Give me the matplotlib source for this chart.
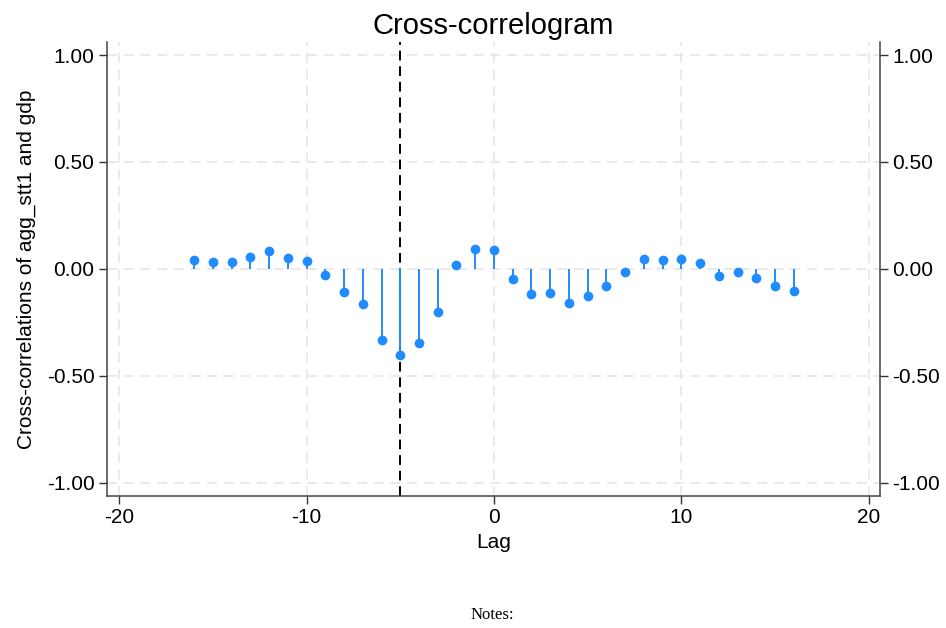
import numpy as np
import matplotlib
matplotlib.use("Agg")
from matplotlib import pyplot as plt

# cross-correlations, lags -16..16
lags = list(range(-16, 17))
xcorr = [0.039, 0.031, 0.030, 0.056, 0.083, 0.051, 0.037, -0.028,
         -0.109, -0.166, -0.333, -0.403, -0.348, -0.203, 0.020, 0.094,
         0.088,
         -0.049, -0.117, -0.111, -0.158, -0.128, -0.080, -0.013,
         0.044, 0.039, 0.045, 0.028, -0.034, -0.016, -0.045, -0.080, -0.105]
xticks = [-20, -10, 0, 10, 20]
yticks = [-1.0, -0.5, 0.0, 0.5, 1.0]
ytick_labels = ["-1.00", "-0.50", "0.00", "0.50", "1.00"]
marked_lag = -5

plt.rcParams['font.family'] = ['Liberation Sans', 'DejaVu Sans']
plt.rcParams['axes.unicode_minus'] = False
blue = '#1f8cff'

fig = plt.figure(figsize=(9.46, 6.28), dpi=100)
ax = fig.add_axes([0.1131, 0.2102, 0.8171, 0.7229])

# gridlines
for yv in yticks:
    ax.axhline(yv, color='#e6e6e6', lw=1.2, ls=(0, (6, 4)), zorder=0)
for xv in xticks:
    ax.axvline(xv, color='#e6e6e6', lw=1.2, ls=(0, (6, 4)), zorder=0)

ax.axvline(marked_lag, color='black', lw=1.4, ls=(0, (5, 3)), zorder=1)
ax.vlines(lags, 0, xcorr, color=blue, lw=1.4, zorder=2)
ax.plot(lags, xcorr, 'o', color=blue, ms=6, zorder=3)

ax.set_xlim(-20.65, 20.6)
ax.set_ylim(-1.063, 1.061)
ax.set_xticks(xticks)
ax.set_yticks(yticks)
ax.set_yticklabels(ytick_labels)
ax.tick_params(axis='both', labelsize=15, direction='out', length=6,
               width=1, color='#333333', pad=3)
ax.tick_params(axis='y', right=True, labelright=True)

for side in ['left', 'right', 'bottom']:
    ax.spines[side].set_color('#444444')
    ax.spines[side].set_linewidth(1.1)
ax.spines['top'].set_visible(False)

ax.set_xlabel('Lag', fontsize=15, labelpad=4)
ax.set_ylabel('Cross-correlations of agg_stt1 and gdp', fontsize=15, labelpad=8)
ax.set_title('Cross-correlogram', fontsize=21, pad=6)

fig.text(0.52, 0.021, 'Notes:', family=['Liberation Serif'], fontsize=12,
         ha='center', va='center')

fig.savefig('out.png', dpi=100)
